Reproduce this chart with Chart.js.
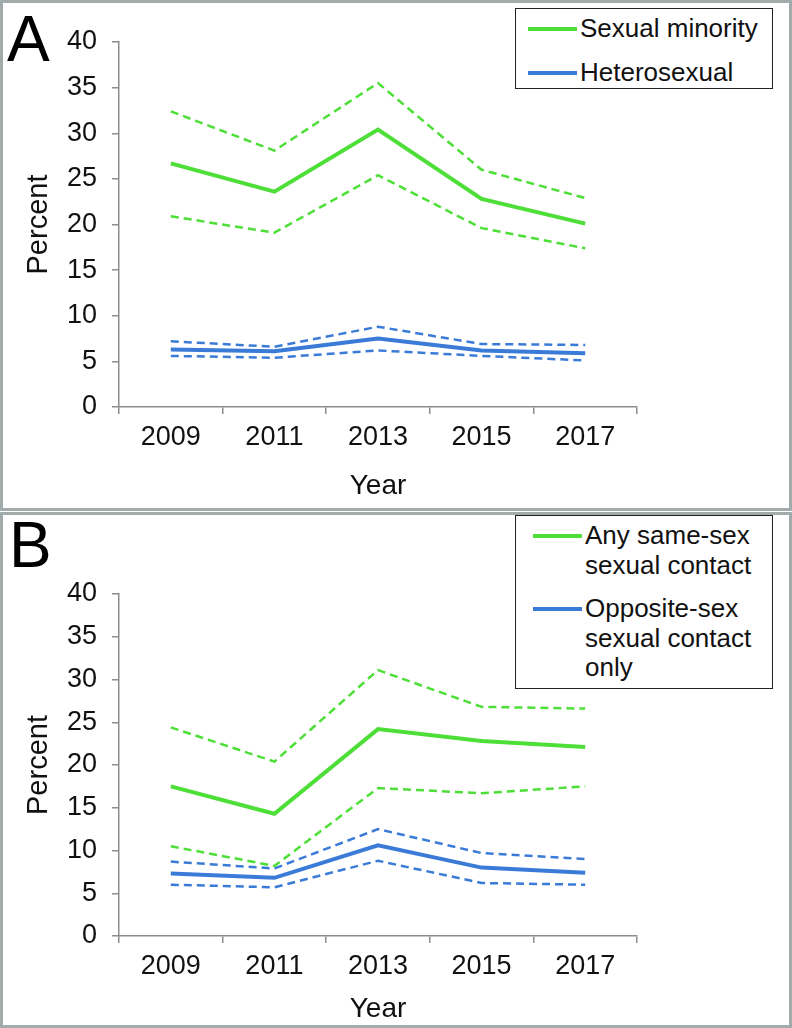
<!DOCTYPE html>
<html lang="en">
<head>
<meta charset="UTF-8">
<title>Percent by year</title>
<style>
  body { margin: 0; background: #fff; font-family: 'Liberation Sans', Arial, sans-serif; }
  #page { position: relative; width: 792px; height: 1028px; overflow: hidden; }
  canvas { position: absolute; left: 0; }
  .panel { position: absolute; left: 0; width: 792px; border: 3px solid #a2abab; box-sizing: border-box; pointer-events: none; }
  .letter { position: absolute; font-size: 64px; line-height: 1; color: #000; }
  .legend { position: absolute; left: 515px; width: 258px; border: 1.5px solid #222; box-sizing: border-box; background: #fff; font-size: 26px; color: #111; padding-top: 5px; }
  .item { display: flex; align-items: flex-start; margin-bottom: 14px; }
  .swatch { width: 49px; height: 4px; margin-top: 13px; flex: none; }
  .label { line-height: 29.5px; margin-left: 3px; }
</style>
<script src="https://cdn.jsdelivr.net/npm/chart.js"></script>
</head>
<body>
<div id="page">
  <canvas id="chartA" width="792" height="511" style="top:0"></canvas>
  <canvas id="chartB" width="792" height="516" style="top:512px"></canvas>
  <div class="panel" style="top:0; height:511px"></div>
  <div class="panel" style="top:512px; height:516px"></div>
  <div class="letter" style="left:7px; top:7px">A</div>
  <div class="letter" style="left:9px; top:513px">B</div>
  <div class="legend" id="legendA" style="top:8px; height:81px; padding-left:12px"></div>
  <div class="legend" id="legendB" style="top:515px; height:174px; padding-left:17px"></div>
</div>
<script>
// years on the x axis
const years = ['2009', '2011', '2013', '2015', '2017'];
const yTicks = [0, 5, 10, 15, 20, 25, 30, 35, 40];

// Panel A: sexual identity (estimate + 95% CI)
const minorityA = [26.7, 23.6, 30.4, 22.8, 20.1];
const minorityAUpper = [32.4, 28.1, 35.5, 26.0, 22.9];
const minorityALower = [20.9, 19.1, 25.4, 19.6, 17.4];
const heteroA = [6.3, 6.1, 7.5, 6.2, 5.9];
const heteroAUpper = [7.2, 6.6, 8.8, 6.9, 6.8];
const heteroALower = [5.6, 5.4, 6.2, 5.6, 5.1];

// Panel B: sex of sexual contacts (estimate + 95% CI)
const sameSexB = [17.5, 14.3, 24.2, 22.8, 22.1];
const sameSexBUpper = [24.4, 20.4, 31.1, 26.8, 26.6];
const sameSexBLower = [10.5, 8.2, 17.3, 16.7, 17.5];
const oppositeB = [7.3, 6.8, 10.6, 8.0, 7.4];
const oppositeBUpper = [8.7, 7.9, 12.5, 9.7, 9.0];
const oppositeBLower = [6.0, 5.7, 8.8, 6.2, 6.0];

const legendA = [['Sexual minority'], ['Heterosexual']];
const legendB = [['Any same-sex', 'sexual contact'], ['Opposite-sex', 'sexual contact', 'only']];

const green = '#4ddf37';
const blue = '#3b7bd8';

Chart.defaults.font.family = "'Liberation Sans', Arial, sans-serif";
Chart.defaults.color = '#111';

function solid(data, color) {
    return { data: data, borderColor: color, borderWidth: 4, pointRadius: 0, fill: false, tension: 0 };
}
function dashed(data, color) {
    return { data: data, borderColor: color, borderWidth: 2.5, borderDash: [8, 5], pointRadius: 0, fill: false, tension: 0 };
}

function makeChart(id, datasets, plotTop, xHeight, yearPad) {
    let ctx = document.getElementById(id).getContext('2d');
    return new Chart(ctx, {
        type: 'line',
        data: { labels: years, datasets: datasets },
        options: {
            responsive: false,
            animation: false,
            layout: { padding: { left: 0, top: plotTop, right: 155, bottom: 0 } },
            plugins: { legend: { display: false }, tooltip: { enabled: false } },
            scales: {
                x: {
                    offset: true,
                    grid: { offset: true, drawOnChartArea: false, tickLength: 7, color: '#8d8d8d', lineWidth: 1.5 },
                    border: { color: '#8d8d8d', width: 1.5 },
                    ticks: { font: { size: 27 }, padding: 7, maxRotation: 0 },
                    title: { display: true, text: 'Year', font: { size: 28 }, padding: { top: 0, bottom: yearPad } },
                    afterFit: s => { s.height = xHeight; }
                },
                y: {
                    min: 0,
                    max: 40,
                    afterBuildTicks: s => { s.ticks = yTicks.map(v => ({ value: v })); },
                    grid: { drawOnChartArea: false, tickLength: 7, color: '#8d8d8d', lineWidth: 1.5 },
                    border: { color: '#8d8d8d', width: 1.5 },
                    ticks: { font: { size: 27 }, padding: 15 },
                    title: { display: true, text: 'Percent', font: { size: 29 }, padding: { top: 22, bottom: 0 } },
                    afterFit: s => { s.width = 119; }
                }
            }
        }
    });
}

function buildLegend(id, entries, colors) {
    let box = document.getElementById(id);
    entries.forEach((lines, i) => {
        let item = document.createElement('div');
        item.className = 'item';
        let sw = document.createElement('div');
        sw.className = 'swatch';
        sw.style.background = colors[i];
        let lab = document.createElement('div');
        lab.className = 'label';
        lab.innerHTML = lines.join('<br>');
        item.appendChild(sw);
        item.appendChild(lab);
        box.appendChild(item);
    });
}

makeChart('chartA', [
    dashed(minorityAUpper, green), solid(minorityA, green), dashed(minorityALower, green),
    dashed(heteroAUpper, blue), solid(heteroA, blue), dashed(heteroALower, blue)
], 42, 104, 8);

makeChart('chartB', [
    dashed(sameSexBUpper, green), solid(sameSexB, green), dashed(sameSexBLower, green),
    dashed(oppositeBUpper, blue), solid(oppositeB, blue), dashed(oppositeBLower, blue)
], 82, 92, 2);

buildLegend('legendA', legendA, [green, blue]);
buildLegend('legendB', legendB, [green, blue]);
</script>
</body>
</html>
